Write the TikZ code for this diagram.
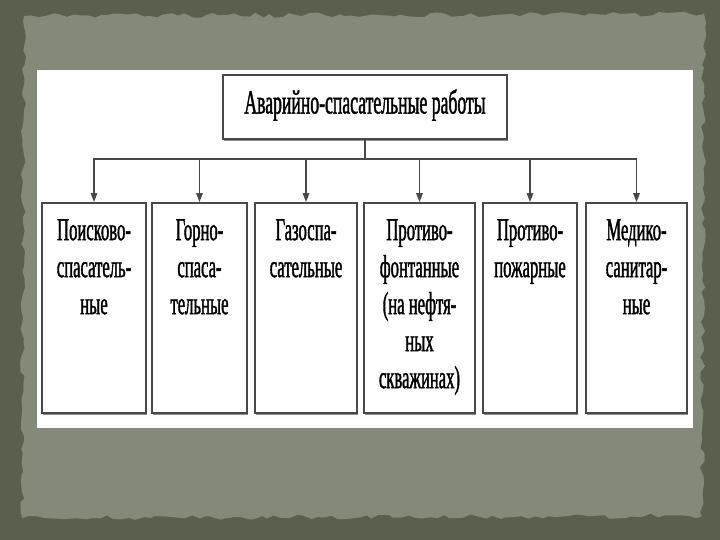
\documentclass[tikz,border=0pt]{standalone}
\usepackage{fontspec}
\setmainfont{Liberation Serif}[FakeStretch=0.52,FakeBold=1.2]
\usetikzlibrary{arrows.meta,shadows,decorations.pathmorphing}
\definecolor{outerbg}{HTML}{59614E}
\definecolor{panelbg}{HTML}{838A79}
\definecolor{linecol}{HTML}{484848}
\tikzset{
  boxstyle/.style={draw=linecol, line width=1.8bp, fill=white, rectangle, inner sep=0pt,
    drop shadow={shadow xshift=1.2bp, shadow yshift=-2.2bp, fill=black!45, opacity=1}},
  labelstyle/.style={align=center, inner sep=0pt, font=\fontsize{32bp}{37bp}\selectfont, text=black},
  conn/.style={draw=linecol, line width=1.6bp},
  arr/.style={conn, -{Triangle[width=6.5bp,length=9bp]}}
}
\pgfmathsetseed{7}
\begin{document}
\begin{tikzpicture}[x=1bp,y=-1bp]
\useasboundingbox (0,0) rectangle (720,540);
\fill[outerbg] (0,0) rectangle (720,540);
\fill[panelbg, decorate, decoration={random steps, segment length=7bp, amplitude=2.5bp}]
  (24,16) -- (704,14) -- (702,516) -- (22,518) -- cycle;
\fill[white] (37,70) rectangle (693,428);
% top box
\node[boxstyle, minimum width=284bp, minimum height=64bp] (top) at (365,107) {};
\node[labelstyle, font=\fontsize{34bp}{37bp}\selectfont] (ttop) at (365,105) {Аварийно-спасательные работы};
% lower boxes
\node[boxstyle, minimum width=104bp, minimum height=210bp] (b1) at (94,308) {};
\node[boxstyle, minimum width=95bp, minimum height=210bp] (b2) at (199.5,308) {};
\node[boxstyle, minimum width=102bp, minimum height=210bp] (b3) at (306,308) {};
\node[boxstyle, minimum width=111bp, minimum height=210bp] (b4) at (419.5,308) {};
\node[boxstyle, minimum width=94bp, minimum height=210bp] (b5) at (530,308) {};
\node[boxstyle, minimum width=101bp, minimum height=210bp] (b6) at (636.5,308) {};
\node[labelstyle, anchor=north] (t1) at (94,219) {Поисково-\\спасатель-\\ные};
\node[labelstyle, anchor=north] (t2) at (199.5,219) {Горно-\\спаса-\\тельные};
\node[labelstyle, anchor=north] (t3) at (306,219) {Газоспа-\\сательные};
\node[labelstyle, anchor=north] (t4) at (419.5,219) {Противо-\\фонтанные\\(на нефтя-\\ных\\скважинах)};
\node[labelstyle, anchor=north] (t5) at (530,219) {Противо-\\пожарные};
\node[labelstyle, anchor=north] (t6) at (636.5,219) {Медико-\\санитар-\\ные};
% connectors
\coordinate (bus) at (365,159);
\draw[conn] (top.south) -- (bus);
\foreach \b in {b1,b2,b3,b4,b5,b6}{
  \draw[arr] (bus) -| (\b.north);
}
\end{tikzpicture}
\end{document}
